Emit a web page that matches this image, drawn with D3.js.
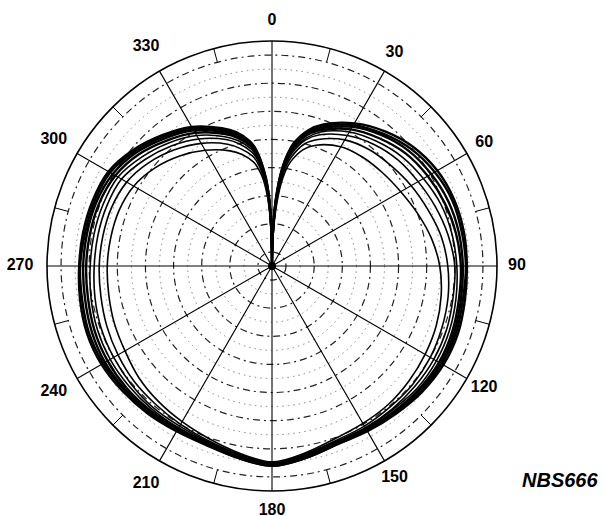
<!DOCTYPE html>
<html>
<head>
<meta charset="utf-8">
<script src="https://cdn.jsdelivr.net/npm/d3@7"></script>
<style>
  body { margin: 0; background: #fff; }
  svg text { font-family: "Liberation Sans", Arial, sans-serif; font-weight: bold; fill: #000; }
</style>
</head>
<body>
<div id="chart"></div>
<script>
// angle of each sample, degrees clockwise from top
const angles = [0, 1, 2, 3, 4, 6, 8, 10, 15, 20, 30, 40, 50, 60, 70, 80, 90, 100, 110, 120,
  130, 140, 150, 160, 170, 180, 190, 200, 210, 220, 230, 240, 250, 260, 270, 280, 290, 300,
  310, 320, 330, 340, 345, 350, 352, 354, 356, 357, 358, 359, 360];

// radius of each trace at those angles (outermost first)
const trace1 = [3, 25, 45, 62, 76, 98, 113, 124, 140, 150, 164, 175, 184, 190, 193, 194, 194, 195, 197,
  197, 195, 192, 190, 189, 194, 199, 194, 190, 190, 192, 194, 196,
  196, 194, 192, 191, 190, 188, 180, 170, 160, 146, 138, 126, 118, 105, 88, 76, 60, 38, 3];
const trace2 = [3, 24, 44, 61, 75, 97, 112, 122, 138, 148, 162, 172, 181, 187, 191, 192, 193, 193, 195,
  195, 194, 191, 189, 189, 194, 199, 194, 189, 189, 191, 192, 194,
  194, 192, 191, 189, 188, 186, 178, 168, 158, 144, 136, 124, 116, 104, 87, 75, 59, 37, 3];
const trace3 = [3, 23, 43, 59, 73, 95, 110, 121, 137, 146, 160, 170, 178, 183, 187, 189, 190, 191, 193,
  194, 192, 190, 189, 188, 193, 198, 193, 189, 188, 189, 191, 192,
  191, 189, 188, 187, 186, 183, 176, 166, 156, 142, 134, 123, 115, 102, 85, 73, 58, 36, 3];
const trace4 = [3, 22, 41, 58, 71, 93, 108, 119, 135, 144, 157, 166, 174, 179, 183, 186, 188, 189, 191,
  192, 191, 189, 188, 187, 193, 198, 193, 188, 187, 188, 189, 189,
  188, 186, 185, 184, 183, 180, 173, 163, 153, 140, 132, 121, 113, 101, 84, 72, 56, 35, 3];
const trace5 = [3, 21, 39, 56, 69, 91, 106, 117, 132, 142, 154, 162, 169, 174, 179, 182, 184, 186, 188,
  189, 189, 187, 187, 187, 192, 197, 192, 187, 186, 186, 186, 186,
  185, 183, 181, 180, 179, 177, 169, 160, 150, 137, 129, 118, 110, 99, 82, 70, 54, 33, 3];
const trace6 = [3, 20, 37, 53, 67, 89, 104, 114, 130, 139, 150, 158, 164, 168, 173, 178, 182, 183, 185,
  186, 186, 186, 186, 186, 191, 197, 191, 186, 184, 184, 183, 182,
  181, 179, 177, 176, 175, 173, 165, 156, 146, 134, 126, 115, 108, 96, 80, 68, 52, 31, 3];
const trace7 = [3, 18, 34, 50, 63, 85, 100, 110, 126, 134, 145, 151, 155, 160, 165, 171, 175, 178, 180,
  182, 183, 183, 184, 185, 190, 196, 190, 185, 182, 180, 179, 177,
  175, 173, 172, 171, 170, 167, 160, 151, 141, 129, 121, 111, 104, 93, 76, 64, 49, 29, 3];
const trace8 = [3, 15, 30, 45, 58, 80, 95, 105, 120, 128, 137, 141, 144, 148, 154, 161, 167, 171, 174,
  176, 178, 180, 181, 183, 189, 195, 189, 183, 179, 176, 173, 169,
  167, 165, 164, 163, 162, 159, 152, 143, 133, 122, 115, 105, 98, 88, 72, 60, 45, 25, 3];

// grid
const spokeAngles = [0, 30, 60, 90, 120, 150, 180, 210, 240, 270, 300, 330];
const spokeLabels = ["0", "30", "60", "90", "120", "150", "180", "210", "240", "270", "300", "330"];
const minorAngles = [15, 45, 75, 105, 135, 165, 195, 225, 255, 285, 315, 345];
const ringValues = [14, 28, 42, 56, 70, 84, 98, 112, 126, 140, 154, 168, 182, 196, 210];
const rMax = 224;

const width = 604;
const height = 516;
const center = {x: 272, y: 266};

const svg = d3.select("#chart")
  .append("svg")
  .attr("width", width)
  .attr("height", height);

const g = svg.append("g")
  .attr("transform", `translate(${center.x},${center.y})`);

const r = d3.scaleLinear().domain([0, rMax]).range([0, 225]);
const rad = a => a * Math.PI / 180;

// rings: odd ones dash-dot, even ones dotted
g.selectAll(".ring")
  .data(ringValues)
  .enter()
  .append("circle")
  .attr("class", "ring")
  .attr("r", d => r(d))
  .attr("fill", "none")
  .attr("stroke", (d, i) => i % 2 === 0 ? "#222" : "#777")
  .attr("stroke-width", (d, i) => i % 2 === 0 ? 1.2 : 0.9)
  .attr("stroke-dasharray", (d, i) => i % 2 === 0 ? "7,4,2,4" : "1.5,4");

// outer circle
g.append("circle")
  .attr("r", r(rMax))
  .attr("fill", "none")
  .attr("stroke", "#000")
  .attr("stroke-width", 1.6);

// spokes
g.selectAll(".spoke")
  .data(spokeAngles)
  .enter()
  .append("line")
  .attr("class", "spoke")
  .attr("x1", 0)
  .attr("y1", 0)
  .attr("x2", d => r(rMax) * Math.sin(rad(d)))
  .attr("y2", d => -r(rMax) * Math.cos(rad(d)))
  .attr("stroke", "#000")
  .attr("stroke-width", 1.1);

// short ticks half way between spokes
g.selectAll(".minor")
  .data(minorAngles)
  .enter()
  .append("line")
  .attr("class", "minor")
  .attr("x1", d => r(210) * Math.sin(rad(d)))
  .attr("y1", d => -r(210) * Math.cos(rad(d)))
  .attr("x2", d => r(rMax) * Math.sin(rad(d)))
  .attr("y2", d => -r(rMax) * Math.cos(rad(d)))
  .attr("stroke", "#000")
  .attr("stroke-width", 1);

// angle labels (left-hand ones sit a little further out)
const labelR = d => Math.sin(rad(d)) < -0.1 ? 252 : 245;

g.selectAll(".alabel")
  .data(spokeAngles)
  .enter()
  .append("text")
  .attr("class", "alabel")
  .attr("x", d => labelR(d) * Math.sin(rad(d)))
  .attr("y", d => -labelR(d) * Math.cos(rad(d)) - 2)
  .attr("text-anchor", "middle")
  .attr("dominant-baseline", "central")
  .style("font-size", "16px")
  .text((d, i) => spokeLabels[i]);

// heart traces
const traces = [trace1, trace2, trace3, trace4, trace5, trace6, trace7, trace8];

const line = d3.lineRadial()
  .angle((d, i) => rad(angles[i]))
  .radius(d => r(d))
  .curve(d3.curveCatmullRom);

g.selectAll(".trace")
  .data(traces)
  .enter()
  .append("path")
  .attr("class", "trace")
  .attr("d", line)
  .attr("fill", "none")
  .attr("stroke", "#000")
  .attr("stroke-width", (d, i) => i < 4 ? 2.4 : 1.6);

// dark spot where all traces meet
g.append("circle")
  .attr("r", 4)
  .attr("fill", "#000");

svg.append("text")
  .attr("x", 522)
  .attr("y", 487)
  .style("font-size", "20px")
  .style("font-style", "italic")
  .text("NBS666");
</script>
</body>
</html>
